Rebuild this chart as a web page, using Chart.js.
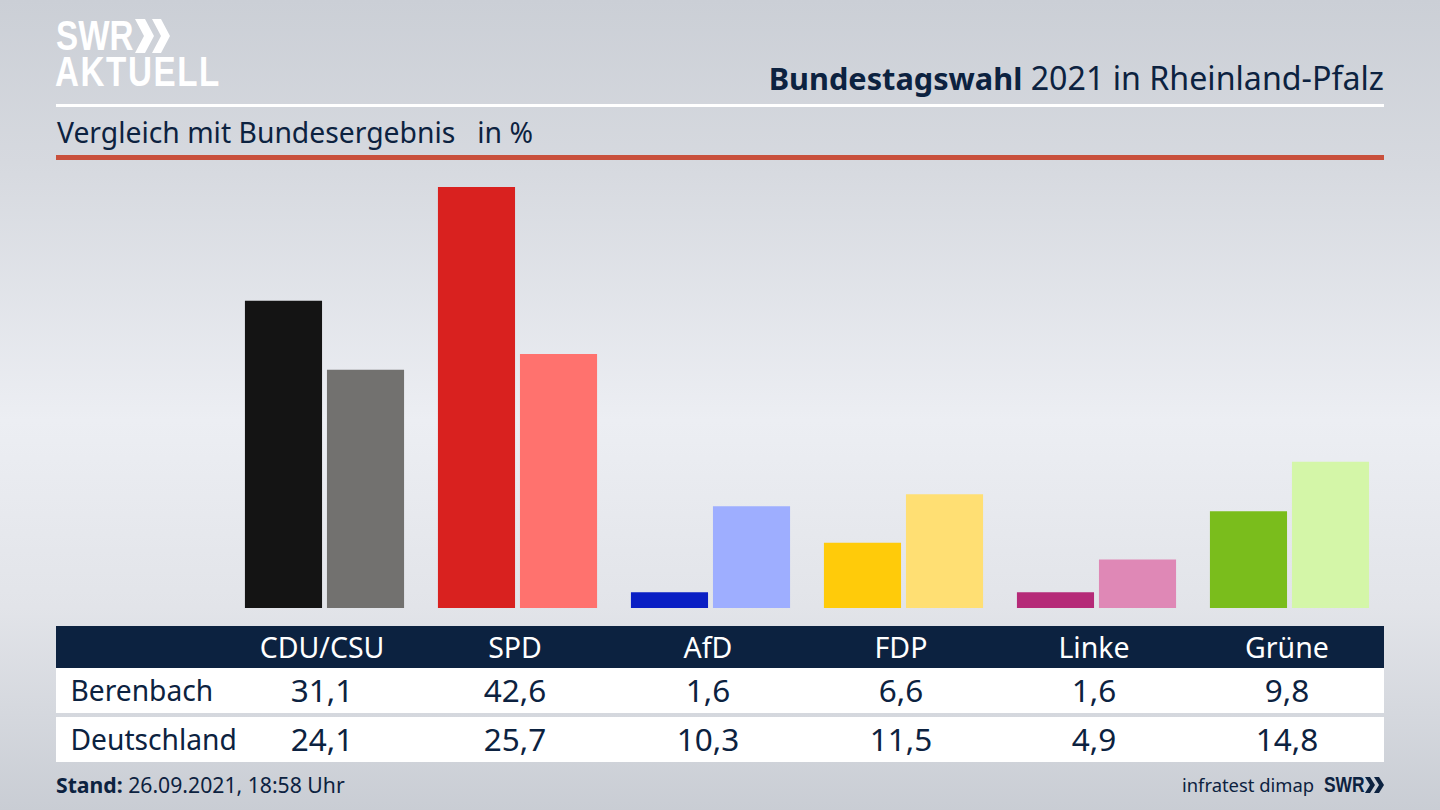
<!DOCTYPE html>
<html lang="de">
<head>
<meta charset="utf-8">
<title>Bundestagswahl 2021 in Rheinland-Pfalz</title>
<script src="https://cdn.jsdelivr.net/npm/chart.js@4/dist/chart.umd.min.js"></script>
<style>
    html, body { margin: 0; padding: 0; }
    body {
        width: 1440px; height: 810px; position: relative; overflow: hidden;
        font-family: "Noto Sans", sans-serif; color: #0c2240;
        background: linear-gradient(180deg, #cbcfd6 0%, #d6d9df 20%, #eceef3 52%, #e2e4e9 75%, #c9cdd4 100%);
    }
    .abs { position: absolute; white-space: nowrap; }
    .logo { color: #fff; font-family: "Liberation Sans", sans-serif; font-weight: 700; transform-origin: left center; transform: scaleX(0.79); }
    .title { right: 56px; top: 56px; font-size: 32.2px; line-height: 44px; }
    .title b { font-size: 30.7px; }
    .rule { left: 56px; width: 1328px; }
    .sub { left: 57px; top: 112px; font-size: 28.3px; line-height: 40px; white-space: pre; }
    #chart { position: absolute; left: 228px; top: 170px; }
    .row { position: absolute; left: 56px; width: 1328px; }
    .cell { position: absolute; top: -1px; width: 160px; text-align: center; font-size: 31.5px; }
    #head .cell { top: 0; font-size: 28.5px; }
    .name { position: absolute; left: 14.5px; top: 0; font-size: 28.2px; }
    .foot { font-size: 21.2px; line-height: 30px; }
</style>
</head>
<body>
<div class="abs logo" style="left:56px;top:14px;font-size:42px;line-height:44px">SWR</div>
<svg class="abs" style="left:135px;top:19px" width="36" height="34" fill="#fff">
    <polygon points="0,0 10,0 19,17 10,34 0,34 9,17"/>
    <polygon points="17,0 26,0 35,17 26,34 17,34 26,17"/>
</svg>
<div class="abs logo" style="left:55px;top:50px;font-size:42px;line-height:44px;letter-spacing:2px">AKTUELL</div>

<div class="abs title"><b>Bundestagswahl</b> 2021 in Rheinland-Pfalz</div>
<div class="abs rule" style="top:104px;height:3px;background:#fff"></div>
<div class="abs sub">Vergleich mit Bundesergebnis   in %</div>
<div class="abs rule" style="top:155px;height:5px;background:#c9503c"></div>

<canvas id="chart" width="1158" height="438"></canvas>

<div class="row" id="head" style="top:626px;height:42px;line-height:42px;background:#0c2240;color:#fff"></div>
<div class="row" id="row0" style="top:668px;height:45px;line-height:45px;background:#fff"></div>
<div class="row" id="row1" style="top:717px;height:45px;line-height:45px;background:#fff"></div>

<div class="abs foot" style="left:56px;top:770px"><b>Stand:</b> 26.09.2021, 18:58 Uhr</div>
<div class="abs foot" style="left:1182px;top:770px;font-size:18.4px">infratest dimap</div>
<div class="abs logo" style="left:1324px;top:770px;font-size:22px;line-height:30px;color:#0c2240">SWR</div>
<svg class="abs" style="left:1365px;top:777px" width="19" height="16" fill="#0c2240">
    <polygon points="0,0 5,0 10,8 5,16 0,16 5,8"/>
    <polygon points="9,0 14,0 19,8 14,16 9,16 14,8"/>
</svg>

<script>
const parties = ["CDU/CSU", "SPD", "AfD", "FDP", "Linke", "Grüne"];
const rowNames = ["Berenbach", "Deutschland"];
const berenbach = [31.1, 42.6, 1.6, 6.6, 1.6, 9.8];
const deutschland = [24.1, 25.7, 10.3, 11.5, 4.9, 14.8];

const berenbachColors = ["#141414", "#d9211f", "#0a1fc4", "#ffcb0a", "#b52a78", "#7abd1c"];
const deutschlandColors = ["#72716f", "#ff726e", "#9eaeff", "#ffdf73", "#df88b6", "#d4f6a8"];

// table cells sit on the same 193px grid as the bars
function addCell(row, text, i) {
    const div = document.createElement('div');
    div.className = 'cell';
    div.style.left = (186 + 193 * i) + 'px';
    div.innerText = text;
    row.appendChild(div);
}

function fillRow(id, name, values) {
    const row = document.getElementById(id);
    const label = document.createElement('div');
    label.className = 'name';
    label.innerText = name;
    row.appendChild(label);
    values.forEach((v, i) => addCell(row, v.toFixed(1).replace('.', ','), i));
}

parties.forEach((p, i) => addCell(document.getElementById('head'), p, i));
fillRow('row0', rowNames[0], berenbach);
fillRow('row1', rowNames[1], deutschland);

new Chart(document.getElementById('chart').getContext('2d'), {
    type: 'bar',
    data: {
        labels: parties,
        datasets: [
            { label: rowNames[0], data: berenbach, backgroundColor: berenbachColors },
            { label: rowNames[1], data: deutschland, backgroundColor: deutschlandColors }
        ]
    },
    options: {
        responsive: false,
        animation: false,
        categoryPercentage: 0.85,
        barPercentage: 0.94,
        layout: { padding: 0 },
        plugins: { legend: { display: false }, tooltip: { enabled: false } },
        scales: {
            x: { display: false },
            y: { display: false, min: 0, max: 44.32 }
        }
    }
});
</script>
</body>
</html>
